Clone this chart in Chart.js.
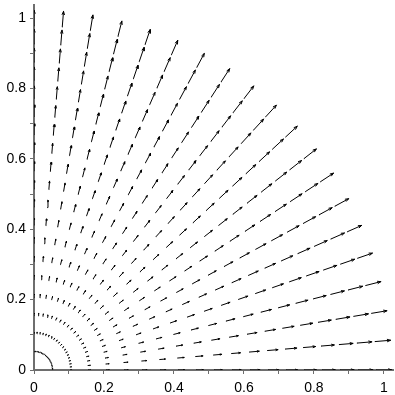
<!DOCTYPE html>
<html><head><meta charset="utf-8">
<script src="https://cdn.jsdelivr.net/npm/chart.js@4"></script>
<style>html,body{margin:0;padding:0;background:#fff}#wrap{width:395px;height:395px}</style>
</head><body><div id="wrap"><canvas id="c" width="395" height="395"></canvas></div>
<script>
// Polar grid of the radial field (grid radii and ray angles)
const radii = [0.0526, 0.1053, 0.1579, 0.2105, 0.2632, 0.3158, 0.3684, 0.4211, 0.4737, 0.5263,
               0.5789, 0.6316, 0.6842, 0.7368, 0.7895, 0.8421, 0.8947, 0.9474, 1.0];
const anglesDeg = [0, 4.737, 9.474, 14.211, 18.947, 23.684, 28.421, 33.158, 37.895, 42.632,
                   47.368, 52.105, 56.842, 61.579, 66.316, 71.053, 75.789, 80.526, 85.263, 90];
// field magnitude at each grid radius (radial field, |F| = r)
const magnitudes = radii.slice();
const tickValues = [0, 0.2, 0.4, 0.6, 0.8, 1];
const tickLabels = ['0', '0.2', '0.4', '0.6', '0.8', '1'];

const ARROW_SCALE = 0.045, HEAD_FRAC = 0.24, HEAD_ANGLE = 20 * Math.PI / 180;
const shafts = [], heads = [];
for (const a of anglesDeg) {
  const t = a * Math.PI / 180, c = Math.cos(t), s = Math.sin(t);
  radii.forEach((r, i) => {
    const L = magnitudes[i] * ARROW_SCALE;
    const r0 = r - L / 2, r1 = r + L / 2;
    const tx = r1 * c, ty = r1 * s;
    shafts.push({x: r0 * c, y: r0 * s}, {x: tx, y: ty}, {x: null, y: null});
    const h = L * HEAD_FRAC;
    const b1 = t + Math.PI - HEAD_ANGLE, b2 = t + Math.PI + HEAD_ANGLE;
    heads.push({x: tx + h * Math.cos(b1), y: ty + h * Math.sin(b1)}, {x: tx, y: ty},
               {x: tx + h * Math.cos(b2), y: ty + h * Math.sin(b2)}, {x: null, y: null});
  });
}

function lab(v) {
  for (let k = 0; k < tickValues.length; k++) if (Math.abs(v - tickValues[k]) < 1e-6) return tickLabels[k];
  return '';
}
const axisColor = '#6e6e6e';
const font = {family: 'Liberation Sans', size: 14};

new Chart(document.getElementById('c'), {
  type: 'scatter',
  data: {datasets: [
    {data: shafts, showLine: true, spanGaps: false, pointRadius: 0, borderColor: '#000', borderWidth: 1, borderCapStyle: 'round'},
    {data: heads, showLine: true, spanGaps: false, pointRadius: 0, borderColor: '#000', borderWidth: 1, borderCapStyle: 'butt'}
  ]},
  options: {
    responsive: false, animation: false, devicePixelRatio: 1,
    layout: {padding: {left: 0, right: 2, top: 5, bottom: 0}},
    plugins: {legend: {display: false}, tooltip: {enabled: false}},
    scales: {
      x: {type: 'linear', min: 0, max: 1.026,
        ticks: {stepSize: 0.1, includeBounds: false, autoSkip: false, maxRotation: 0, callback: lab, font, color: '#000', padding: 6},
        grid: {drawOnChartArea: false, drawTicks: true, tickLength: 4, color: axisColor},
        border: {color: axisColor, width: 2},
        afterFit: s => { s.height = 25; s.paddingLeft = 0; s.paddingRight = 0; }
      },
      y: {type: 'linear', min: 0, max: 1.037,
        ticks: {stepSize: 0.1, includeBounds: false, autoSkip: false, callback: lab, font, color: '#000', padding: 4},
        grid: {drawOnChartArea: false, drawTicks: true, tickLength: 4, color: axisColor},
        border: {color: axisColor, width: 2},
        afterFit: s => { s.width = 34; s.paddingTop = 0; s.paddingBottom = 0; }
      }
    }
  }
});
</script></body></html>
